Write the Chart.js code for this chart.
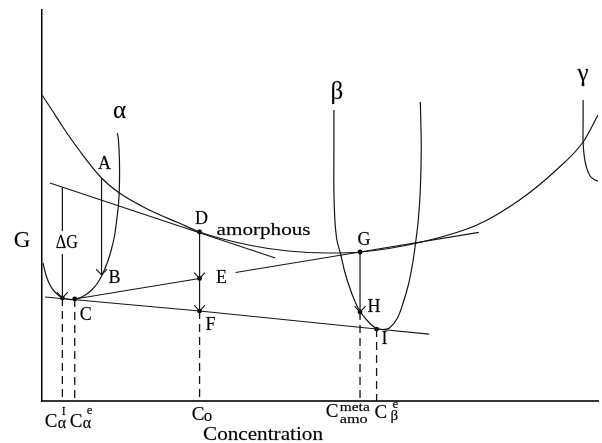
<!DOCTYPE html>
<html>
<head>
<meta charset="utf-8">
<script src="https://cdn.jsdelivr.net/npm/chart.js@4/dist/chart.umd.min.js"></script>
<style>
  html, body { margin: 0; padding: 0; background: #fff; }
  canvas { display: block; }
</style>
</head>
<body>
<canvas id="chart" width="602" height="443"></canvas>
<script>
// Free-energy curves G(c); concentration and G in arbitrary units (0-100)
const amorphousX = [0, 1.79, 3.75, 6.79, 10.71, 13.93, 19.29, 24.64, 28.34, 37.14, 44.29, 51.43, 57.32, 67.5, 78.21, 85.89, 92.5, 97.32, 100];
const amorphousG = [78.26, 74.42, 70.08, 63.94, 57.03, 53.2, 48.85, 45.52, 43.22, 39.9, 38.36, 37.85, 38.11, 40.41, 45.01, 51.41, 59.08, 66.24, 73.15];

const alphaX = [0.18, 0.71, 1.43, 2.32, 3.57, 4.82, 6.07, 7.5, 8.93, 10.0, 10.89, 11.79, 12.5, 13.04, 13.39, 13.75, 13.93, 13.93, 13.75, 13.57];
const alphaG = [35.29, 32.23, 29.67, 27.88, 26.47, 25.96, 26.09, 26.85, 28.39, 30.18, 32.48, 35.55, 38.87, 42.2, 45.78, 50.13, 55.24, 61.64, 66.75, 68.54];

const betaX = [52.5, 52.5, 52.5, 52.68, 53.04, 53.75, 54.46, 55.36, 56.25, 57.14, 58.57, 60.0, 61.25, 62.5, 63.93, 65.0, 65.89, 66.61, 67.14, 67.68, 68.04, 68.21, 68.13, 68.04];
const betaG = [74.42, 64.19, 53.96, 46.29, 41.18, 37.34, 32.99, 28.9, 25.58, 23.02, 20.46, 18.67, 18.29, 18.67, 21.23, 25.32, 29.67, 34.78, 39.9, 46.29, 53.96, 64.19, 71.87, 76.47];

const gammaX = [97.32, 97.32, 97.32, 97.5, 97.86, 98.57, 99.46, 100];
const gammaG = [76.98, 71.87, 66.24, 62.92, 60.1, 57.54, 56.52, 56.27];

// Common tangents
const tangentDX = [1.43, 41.96];
const tangentDG = [55.75, 36.57];
const tangentCEX = [5.89, 28.34];
const tangentCEG = [26.09, 31.35];
const tangentEGX = [34.82, 57.2, 78.57];
const tangentEGG = [32.87, 38.11, 43.12];
const tangentCFIX = [0.54, 28.34, 60.18, 69.64];
const tangentCFIG = [26.6, 23.0, 18.4, 17.1];

// Named points on the construction
const pointNames = ['A', 'B', 'C', 'D', 'E', 'F', 'G', 'H', 'I'];
const pointX = [10.71, 10.71, 5.89, 28.34, 28.34, 28.34, 57.2, 57.2, 60.18];
const pointG = [57.0, 32.23, 26.09, 43.22, 31.35, 23.0, 38.11, 22.76, 18.4];

// Driving force arrow
const deltaGX = 3.66;
const deltaGTop = 54.7;
const deltaGBottom = 26.34;

// Concentration markers dropped to the axis
const markerX = [3.66, 5.89, 28.34, 57.2, 60.18];
const markerFromG = [26.34, 26.09, 23.0, 22.76, 18.4];
const markerSub = ['\u03b1', '\u03b1', 'o', 'amo', '\u03b2'];
const markerSup = ['I', 'e', '', 'meta', 'e'];

const INK = '#151515';
const FONT = '"Liberation Serif", "Times New Roman", serif';

const pts = (xs, ys) => xs.map((x, i) => ({ x, y: ys[i] }));
const P = name => { const i = pointNames.indexOf(name); return { x: pointX[i], y: pointG[i] }; };

function curve(xs, ys, extra) {
  return Object.assign({
    data: pts(xs, ys), showLine: true, pointRadius: 0, borderColor: INK,
    borderWidth: 1.2, fill: false
  }, extra || {});
}
function arrow(from, to) {
  return { data: [from, to], showLine: true, pointRadius: 0, borderColor: INK, borderWidth: 1.2, arrow: true };
}

const datasets = [
  curve(amorphousX, amorphousG, { cubicInterpolationMode: 'monotone' }),
  curve(alphaX, alphaG, { tension: 0.4 }),
  curve(betaX, betaG, { tension: 0.35 }),
  curve(gammaX, gammaG, { tension: 0.4 }),
  curve(tangentDX, tangentDG, { borderWidth: 1.1 }),
  curve(tangentCEX, tangentCEG, { borderWidth: 1.1 }),
  curve(tangentEGX, tangentEGG, { borderWidth: 1.1 }),
  curve(tangentCFIX, tangentCFIG, { borderWidth: 1.1 }),
  arrow({ x: deltaGX, y: deltaGTop }, { x: deltaGX, y: deltaGBottom }),
  arrow(P('A'), P('B')),
  arrow(P('D'), P('E')),
  arrow(P('E'), P('F')),
  arrow(P('G'), P('H')),
  ...markerX.map((x, i) => ({
    data: [{ x, y: markerFromG[i] }, { x, y: 0 }], showLine: true, pointRadius: 0,
    borderColor: INK, borderWidth: 1.3, borderDash: [8, 5]
  })),
  {
    data: [P('C'), P('D'), P('E'), P('F'), P('G'), P('H'), P('I'), { x: deltaGX, y: deltaGBottom }],
    showLine: false, pointRadius: 2.4, pointBackgroundColor: '#000', pointBorderWidth: 0
  }
];

function text(ctx, str, x, y, size, align, width) {
  ctx.save();
  ctx.font = size + 'px ' + FONT;
  ctx.fillStyle = '#000';
  ctx.strokeStyle = 'rgba(0,0,0,0.45)';
  ctx.lineWidth = 0.35;
  ctx.textBaseline = 'alphabetic';
  ctx.textAlign = 'left';
  const w = ctx.measureText(str).width;
  const sx = width ? width / w : 1;
  const left = align === 'center' ? x - (w * sx) / 2 : x;
  ctx.translate(left, y);
  ctx.scale(sx, 1);
  ctx.fillText(str, 0, 0);
  ctx.strokeText(str, 0, 0);
  ctx.restore();
  return w * sx;
}

const annotate = {
  id: 'annotate',
  afterDatasetsDraw(chart) {
    const { ctx, chartArea: area, scales: { x: xs, y: ys } } = chart;
    const px = v => xs.getPixelForValue(v);
    const py = v => ys.getPixelForValue(v);

    // open arrowheads at the end of each arrow
    chart.data.datasets.forEach(ds => {
      if (!ds.arrow) return;
      const a = ds.data[0], b = ds.data[1];
      const x1 = px(a.x), y1 = py(a.y), x2 = px(b.x), y2 = py(b.y);
      const ang = Math.atan2(y2 - y1, x2 - x1);
      ctx.save();
      ctx.strokeStyle = INK;
      ctx.lineWidth = 1.1;
      ctx.beginPath();
      [-0.75, 0.75].forEach(d => {
        ctx.moveTo(x2, y2);
        ctx.lineTo(x2 - 8 * Math.cos(ang + d), y2 - 8 * Math.sin(ang + d));
      });
      ctx.stroke();
      ctx.restore();
    });

    // point letters
    const offsets = { A: [3, -9], B: [13, 8], C: [11, 21], D: [2, -8], E: [22, 5], F: [11, 19], G: [4, -7], H: [14, 0], I: [8, 15] };
    pointNames.forEach(n => {
      const p = P(n);
      text(ctx, n, px(p.x) + offsets[n][0], py(p.y) + offsets[n][1], 18, 'center');
    });
    const d = P('D');
    text(ctx, 'amorphous', px(d.x) + 17, py(d.y) + 3, 16, 'left', 94);

    // ΔG label sits on a gap in its arrow
    const gx = px(deltaGX) + 4.5;
    const gy = (py(deltaGTop) + py(deltaGBottom)) / 2 + 5.5;
    ctx.save();
    ctx.fillStyle = '#fff';
    ctx.fillRect(gx - 12, gy - 17, 24, 23);
    ctx.restore();
    text(ctx, '\u0394G', gx, gy, 18, 'center', 22);

    // phase names above their curves
    text(ctx, '\u03b1', px(alphaX[alphaX.length - 1]) + 2, py(alphaG[alphaG.length - 1]) - 15, 25, 'center');
    text(ctx, '\u03b2', px(betaX[0]) + 3, py(betaG[0]) - 11, 25, 'center');
    text(ctx, '\u03b3', px(gammaX[0]), py(gammaG[0]) - 19, 25, 'center');

    // axis titles
    text(ctx, 'G', area.left - 20, area.top + 237, 23, 'center');
    text(ctx, 'Concentration', area.left + 161, area.bottom + 39, 18, 'left', 120);

    // concentration labels under the markers
    const layout = [
      { c: [-17.5, 26], sub: [-4.5, 27, 16], sup: [-0.5, 14, 12] },
      { c: [-5, 26], sub: [8, 27, 16], sup: [12, 13, 13] },
      { c: [-7.7, 19], sub: [4.3, 20, 17], sup: null },
      { c: [-34.3, 16], sub: [-20.3, 22, 13, 28], sup: [-20.3, 10, 13, 30] },
      { c: [-2, 17], sub: [14, 19, 15], sup: [16, 7, 13] }
    ];
    markerX.forEach((v, i) => {
      const x0 = px(v), y0 = area.bottom, L = layout[i];
      text(ctx, 'C', x0 + L.c[0], y0 + L.c[1], 19, 'left');
      text(ctx, markerSub[i], x0 + L.sub[0], y0 + L.sub[1], L.sub[2], 'left', L.sub[3]);
      if (L.sup && markerSup[i]) text(ctx, markerSup[i], x0 + L.sup[0], y0 + L.sup[1], L.sup[2], 'left', L.sup[3]);
    });
  }
};

new Chart(document.getElementById('chart'), {
  type: 'scatter',
  data: { datasets },
  options: {
    responsive: false,
    animation: false,
    devicePixelRatio: 1,
    layout: { padding: { left: 42, top: 10, right: 0, bottom: 42 } },
    plugins: { legend: { display: false }, tooltip: { enabled: false } },
    elements: { line: { borderCapStyle: 'butt' } },
    scales: {
      x: {
        type: 'linear', min: 0, max: 100,
        grid: { display: false, drawTicks: false },
        ticks: { display: false },
        border: { display: true, color: '#333', width: 2 },
        afterFit: s => { s.height = 0; }
      },
      y: {
        type: 'linear', min: 0, max: 100,
        grid: { display: false, drawTicks: false },
        ticks: { display: false },
        border: { display: true, color: '#000', width: 1.5 },
        afterFit: s => { s.width = 0; }
      }
    }
  },
  plugins: [annotate]
});
</script>
</body>
</html>
